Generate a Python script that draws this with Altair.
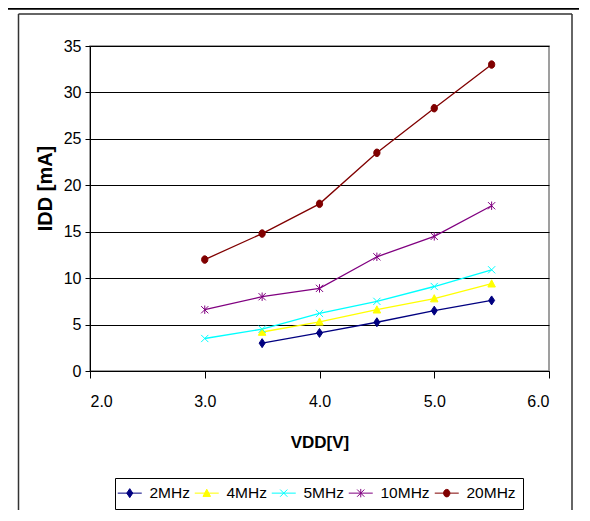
import altair as alt
import pandas as pd

# ---- data ----
vdd = [3.0, 3.5, 4.0, 4.5, 5.0, 5.5]
series = ["2MHz", "4MHz", "5MHz", "10MHz", "20MHz"]
idd_2mhz = [None, 3.0, 4.1, 5.25, 6.5, 7.6]
idd_4mhz = [None, 4.2, 5.3, 6.6, 7.8, 9.4]
idd_5mhz = [3.5, 4.5, 6.2, 7.5, 9.1, 10.9]
idd_10mhz = [6.6, 8.0, 8.9, 12.3, 14.5, 17.8]
idd_20mhz = [12.0, 14.8, 18.0, 23.5, 28.3, 33.0]
colors = ["#000080", "#FFFF00", "#00FFFF", "#800080", "#800000"]
x_ticks = [2.0, 3.0, 4.0, 5.0, 6.0]
y_ticks = [0, 5, 10, 15, 20, 25, 30, 35]

marker_paths = [
    "M0,-1.5L1,0L0,1.5L-1,0Z",
    "M0,-1.3L1.25,1.1L-1.25,1.1Z",
    "M-1.2,-1.2L1.2,1.2M-1.2,1.2L1.2,-1.2",
    "M-1.2,-1.2L1.2,1.2M-1.2,1.2L1.2,-1.2M0,-1.4L0,1.4",
    "M-1.05,0A1.05,1.25,0,1,0,1.05,0A1.05,1.25,0,1,0,-1.05,0Z",
]
legend_paths = ["M-4,0L4,0" + p for p in marker_paths]

rows = []
for name, vals in zip(series, [idd_2mhz, idd_4mhz, idd_5mhz, idd_10mhz, idd_20mhz]):
    for v, i in zip(vdd, vals):
        if i is not None:
            rows.append({"series": name, "vdd": v, "idd": i})
df = pd.DataFrame(rows)

FONT = "Liberation Sans"
W, H = 459, 325

color_scale = alt.Scale(domain=series, range=colors)

x_enc = alt.X("vdd:Q", scale=alt.Scale(domain=[2, 6], nice=False),
              axis=alt.Axis(values=x_ticks, format=".1f", title="VDD[V]", grid=False,
                            tickSize=7, labelPadding=15, titleFontSize=17,
                            titleY=63, titleBaseline="top"))
y_enc = alt.Y("idd:Q", scale=alt.Scale(domain=[0, 35], nice=False),
              axis=alt.Axis(values=y_ticks, title="IDD [mA]", grid=True,
                            tickSize=5, labelPadding=4, titleFontSize=20,
                            titleX=-35, titleY=142))

base = alt.Chart(df)

lines = base.mark_line(strokeWidth=1.3).encode(
    x=x_enc, y=y_enc,
    color=alt.Color("series:N", scale=color_scale, legend=None),
    detail="series:N",
)

points = base.mark_point(filled=True, size=36, strokeWidth=1, opacity=1).encode(
    x="vdd:Q", y="idd:Q",
    fill=alt.Fill("series:N", scale=color_scale, legend=None),
    stroke=alt.Stroke("series:N", scale=color_scale, legend=None),
    shape=alt.Shape("series:N", scale=alt.Scale(domain=series, range=marker_paths), legend=None),
)

leg = alt.Legend(title=None, orient="none", legendX=25, legendY=432, direction="horizontal",
                 strokeColor="black", fillColor="white", padding=7,
                 labelFont=FONT, labelFontSize=15.5, labelColor="black",
                 symbolSize=36, symbolStrokeWidth=1, symbolOpacity=1,
                 labelOffset=12, columnPadding=2)

legend_layer = base.transform_filter("false").mark_point(
    filled=True, size=36, strokeWidth=1, opacity=1
).encode(
    x="vdd:Q", y="idd:Q",
    fill=alt.Fill("series:N", scale=color_scale, legend=leg),
    stroke=alt.Stroke("series:N", scale=color_scale, legend=leg),
    shape=alt.Shape("series:N", scale=alt.Scale(domain=series, range=legend_paths), legend=leg),
)

one = pd.DataFrame({"k": [0]})
frame_left = alt.Chart(one).mark_rule(color="#333333", strokeWidth=1.5).encode(
    x=alt.value(-71.5), y=alt.value(-32), y2=alt.value(480))
frame_right = alt.Chart(one).mark_rule(color="#333333", strokeWidth=1.5).encode(
    x=alt.value(482), y=alt.value(-32), y2=alt.value(480))
frame_top = alt.Chart(one).mark_rule(color="#333333", strokeWidth=1.5).encode(
    x=alt.value(-71.5), x2=alt.value(482), y=alt.value(-32))
outer_top = alt.Chart(one).mark_rule(color="#000000", strokeWidth=2.5).encode(
    x=alt.value(-90), x2=alt.value(520), y=alt.value(-37.5))

chart = alt.layer(
    frame_left, frame_right, frame_top, outer_top, lines, points, legend_layer
).resolve_scale(
    color="independent", fill="independent", stroke="independent", shape="independent"
).properties(
    width=W, height=H,
    autosize=alt.AutoSizeParams(type="none"),
    padding={"left": 82, "top": 38, "right": 30, "bottom": 139},
    background="white",
).configure_view(
    stroke="#808080", strokeWidth=1.5
).configure_axis(
    labelFont=FONT, labelFontSize=16, labelColor="black",
    titleFont=FONT, titleFontWeight="bold", titleColor="black",
    domainColor="black", tickColor="black", gridColor="black", gridWidth=1,
    domainWidth=1,
)

chart.save("out.html", embed_options={"renderer": "svg", "actions": False})
